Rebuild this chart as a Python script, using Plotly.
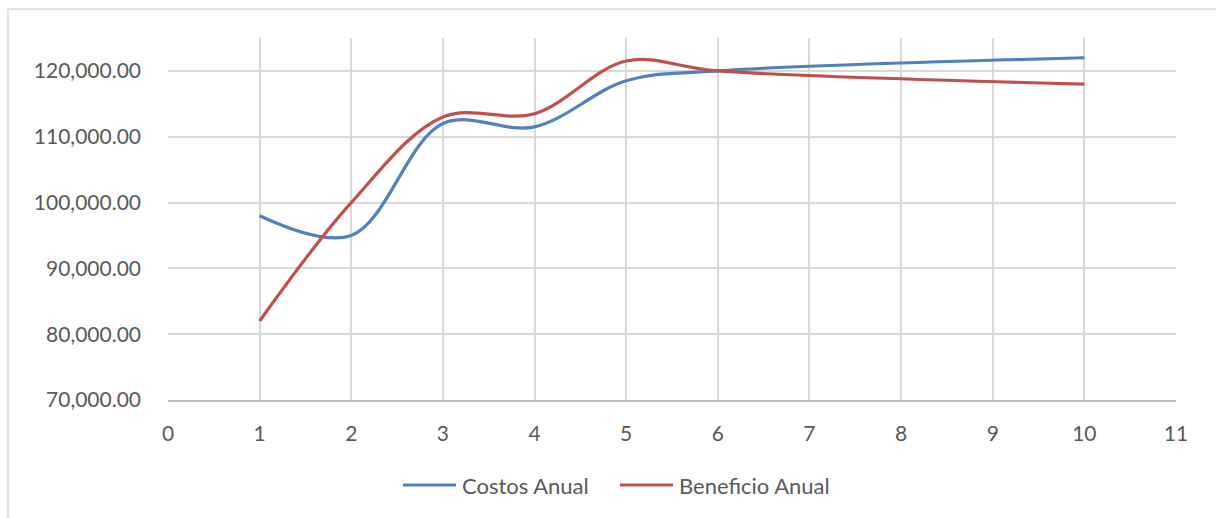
import plotly.graph_objects as go

# Annual series by year
years = [1, 2, 3, 4, 5, 6, 10]
costos_anual = [98000, 95000, 112000, 111500, 118500, 120000, 122000]
beneficio_anual = [82000, 100000, 113000, 113500, 121500, 120000, 118000]

series_names = ["Costos Anual", "Beneficio Anual"]

y_ticks = [70000, 80000, 90000, 100000, 110000, 120000]
y_tick_labels = [f"{v:,.2f}" for v in y_ticks]
x_ticks = list(range(0, 12))

BLUE = "#4F81BD"
RED = "#C0504D"
TEXT = "#595959"
GRID = "#D9D9D9"
FONT = "Lato, 'Open Sans', sans-serif"

fig = go.Figure()
fig.add_trace(go.Scatter(
    x=years, y=costos_anual, name=series_names[0], mode="lines",
    line=dict(color=BLUE, width=3.2, shape="spline", smoothing=1.0),
))
fig.add_trace(go.Scatter(
    x=years, y=beneficio_anual, name=series_names[1], mode="lines",
    line=dict(color=RED, width=3.2, shape="spline", smoothing=1.0),
))

W, H = 1216, 518
L, R, T, B = 168, 40, 38, 118
pw, ph = W - L - R, H - T - B


def px_to_paper(px, py):
    return (px - L) / pw, (H - B - py) / ph


# outer chart frame (top and left edges)
x0, y0 = px_to_paper(8, 9)
x1, _ = px_to_paper(1230, 9)
_, y1 = px_to_paper(8, 530)
shapes = [
    dict(type="line", xref="paper", yref="paper", x0=x0, y0=y0, x1=x1, y1=y0,
         line=dict(color=GRID, width=1.5)),
    dict(type="line", xref="paper", yref="paper", x0=x0, y0=y0, x1=x0, y1=y1,
         line=dict(color=GRID, width=1.5)),
]

# legend row below the plot
annotations = []
legend_items = [(series_names[0], BLUE, 403, 456, 460),
                (series_names[1], RED, 620, 673, 677)]
for name, color, lx0, lx1, tx in legend_items:
    a, ly = px_to_paper(lx0, 485)
    b, _ = px_to_paper(lx1, 485)
    shapes.append(dict(type="line", xref="paper", yref="paper",
                       x0=a, y0=ly, x1=b, y1=ly,
                       line=dict(color=color, width=3.2)))
    t, _ = px_to_paper(tx, 485)
    annotations.append(dict(xref="paper", yref="paper", x=t, y=ly,
                            xanchor="left", yanchor="middle", showarrow=False,
                            text=name, font=dict(family=FONT, size=22, color=TEXT)))

fig.update_layout(
    width=W, height=H,
    margin=dict(l=L, r=R, t=T, b=B, autoexpand=False),
    paper_bgcolor="white", plot_bgcolor="white",
    font=dict(family=FONT, size=21, color=TEXT),
    showlegend=False,
    xaxis=dict(
        range=[0, 11], tickvals=x_ticks, ticktext=[str(v) for v in x_ticks],
        showgrid=True, gridcolor=GRID, gridwidth=1.5,
        showline=True, linecolor="#BFBFBF", linewidth=1.5,
        zeroline=False, ticks="", ticklabelstandoff=14,
        tickfont=dict(family=FONT, size=21, color=TEXT),
    ),
    yaxis=dict(
        range=[70000, 125000], tickvals=y_ticks, ticktext=y_tick_labels,
        showgrid=True, gridcolor=GRID, gridwidth=1.5,
        showline=False, zeroline=False, ticks="", ticklabelstandoff=26,
        tickfont=dict(family=FONT, size=21, color=TEXT),
    ),
    shapes=shapes,
    annotations=annotations,
)

fig.write_html("out.html")
